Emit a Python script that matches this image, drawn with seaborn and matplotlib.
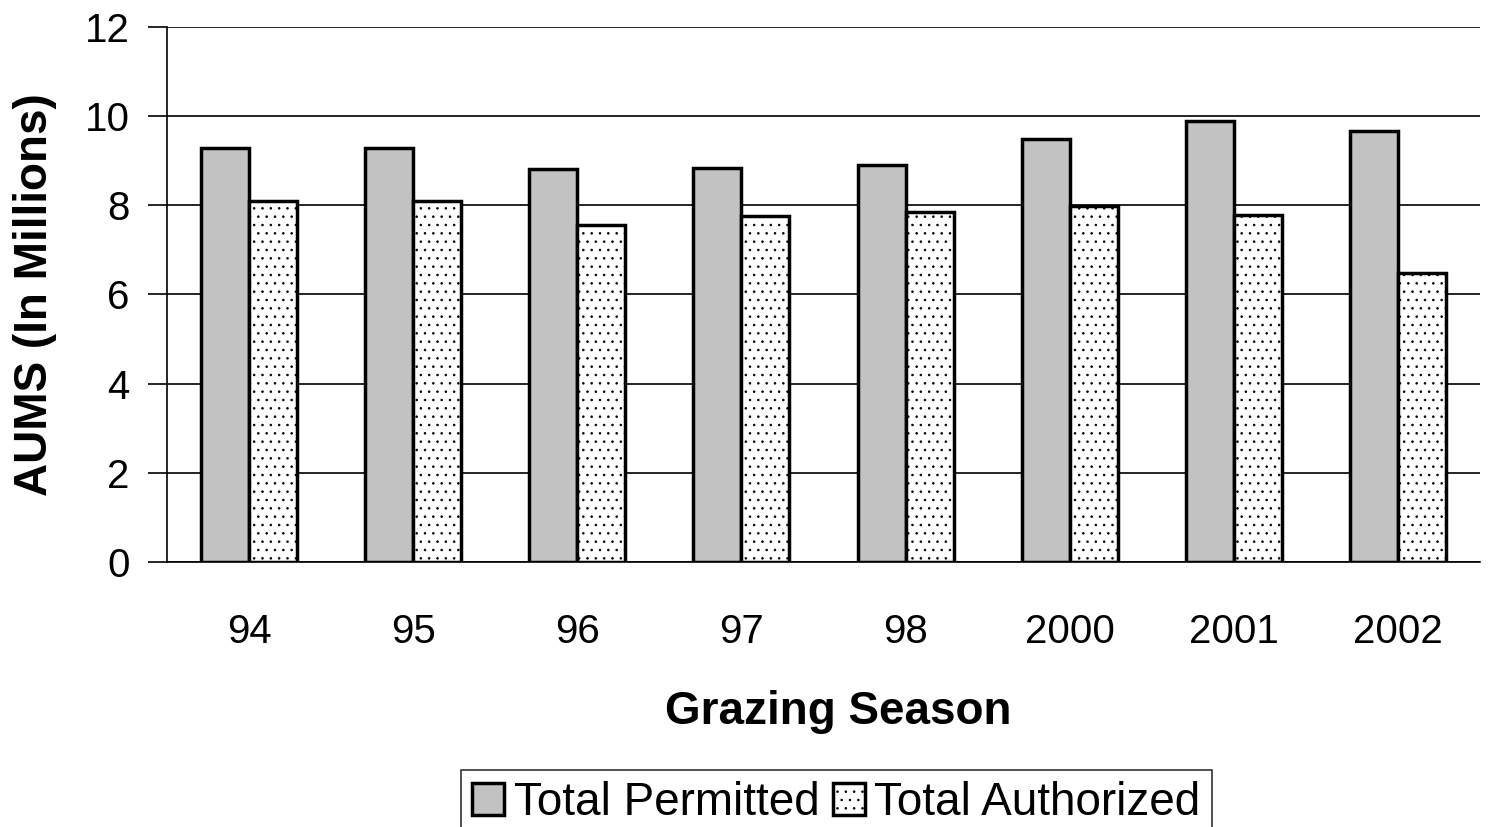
import matplotlib
matplotlib.use("Agg")
import matplotlib.pyplot as plt
import pandas as pd
import seaborn as sns

seasons = ["94", "95", "96", "97", "98", "2000", "2001", "2002"]
permitted = [9.29, 9.29, 8.82, 8.84, 8.91, 9.49, 9.89, 9.67]
authorized = [8.10, 8.10, 7.56, 7.76, 7.85, 7.99, 7.78, 6.48]
series_names = ["Total Permitted", "Total Authorized"]

df = pd.DataFrame({
    "season": seasons * 2,
    "value": permitted + authorized,
    "series": [series_names[0]] * len(seasons) + [series_names[1]] * len(seasons),
})

sns.set_style("white")
plt.rcParams["font.family"] = ["Liberation Sans", "DejaVu Sans"]
plt.rcParams["text.color"] = "black"
plt.rcParams["xtick.color"] = "black"
plt.rcParams["ytick.color"] = "black"
plt.rcParams["axes.labelcolor"] = "black"
plt.rcParams["hatch.color"] = "#666666"
plt.rcParams["hatch.linewidth"] = 0.6

fig = plt.figure(figsize=(14.99, 8.27), dpi=100)
ax = fig.add_axes([0.1114, 0.3204, 0.876, 0.647])

sns.barplot(data=df, x="season", y="value", hue="series", order=seasons,
            palette=["#c2c2c2", "white"], edgecolor="black", linewidth=2.5,
            width=0.585, gap=0, ax=ax, legend=False, zorder=3)

for bar in ax.containers[1]:
    bar.set_hatch("..")

ax.set_ylim(0, 12)
ax.set_yticks(range(0, 13, 2))
ax.set_xlim(-0.5, len(seasons) - 0.5)
ax.yaxis.grid(True, color="black", linewidth=1.2, zorder=0)
ax.set_axisbelow(True)
for s in ["top", "right"]:
    ax.spines[s].set_visible(False)
ax.spines["left"].set_color("black")
ax.spines["bottom"].set_color("black")
ax.spines["left"].set_linewidth(1.2)
ax.spines["bottom"].set_linewidth(1.2)

ax.set_xticks([i + 0.5 for i in range(-1, len(seasons))], minor=True)
ax.tick_params(axis="x", which="major", length=0, labelsize=29, pad=37)
ax.tick_params(axis="x", which="minor", length=14, width=1.2, direction="out")
ax.tick_params(axis="y", length=14, width=1.2, direction="out",
               labelsize=29, left=True, pad=13)

ax.set_xlabel("Grazing Season", fontsize=33, fontweight="bold", labelpad=28)
ax.xaxis.label.set_x(0.511)
ax.set_ylabel("AUMS (In Millions)", fontsize=33, fontweight="bold", labelpad=20)

handles = [ax.containers[0][0], ax.containers[1][0]]
leg = fig.legend(handles, series_names, loc="lower center", bbox_to_anchor=(0.558, -0.012),
                 ncol=2, fontsize=33, frameon=True, fancybox=False, edgecolor="black",
                 handlelength=0.7, handleheight=0.7, handletextpad=0.2,
                 columnspacing=0.3, borderpad=0.25, borderaxespad=0)
leg.get_frame().set_linewidth(1.2)

fig.savefig("out.png", dpi=100)
